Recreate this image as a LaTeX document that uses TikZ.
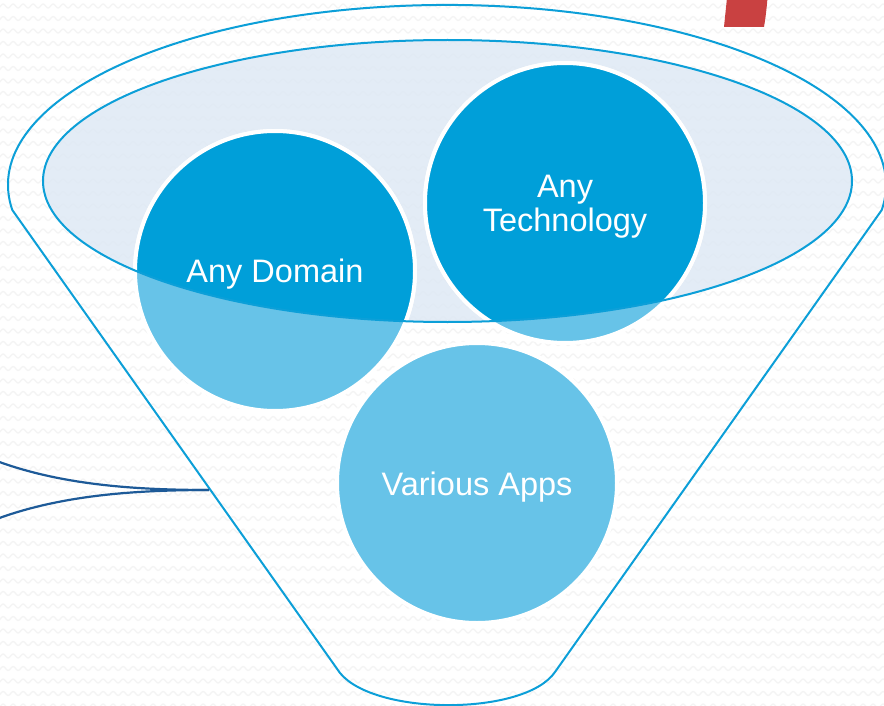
\documentclass[tikz,border=0pt]{standalone}
\usepackage{fontspec}
\setmainfont{Liberation Sans}
\usetikzlibrary{decorations.pathmorphing}
\definecolor{funnelblue}{HTML}{0C9FD8}
\definecolor{darkbub}{HTML}{009FD9}
\definecolor{lightbub}{HTML}{67C3E8}
\definecolor{ellfill}{HTML}{DDE8F4}
\definecolor{connblue}{HTML}{1D5A98}
\definecolor{qred}{HTML}{C94141}
\definecolor{patgray}{HTML}{F4F4F4}
\tikzset{
  funnel/.style={draw=funnelblue, line width=2pt},
  bubble/.style={circle, minimum size=280pt, inner sep=0pt, fill=lightbub, draw=white, line width=4pt},
  lbl/.style={text=white, font=\fontsize{32.5}{35}\selectfont, align=center, inner sep=0pt},
  conn/.style={draw=connblue, line width=2.2pt},
  pat/.style={draw=patgray, line width=1.3pt, decorate, decoration={snake, amplitude=2pt, segment length=10pt}}
}
\begin{document}
\begin{tikzpicture}[x=1pt, y=-1pt]
\useasboundingbox (0,0) rectangle (884,706);
\begin{scope}
\clip (0,0) rectangle (884,706);
\fill[white] (0,0) rectangle (884,706);
\foreach \k in {0,...,56} {
  \draw[pat] (-10,{6+12.5*\k}) -- (900,{6+12.5*\k});
}
% red shape
\fill[qred] (724,27) -- (727,-2) -- (767.5,-2) .. controls (766.5,10) and (765.5,18) .. (764,27) -- cycle;
% funnel outline
\draw[funnel] (12.3,210) arc[start angle=172, end angle=368, x radius=439, y radius=180]
  -- (555,672) .. controls (525,716) and (375,716) .. (340,673) -- cycle;
% inner ellipse fill
\fill[ellfill, fill opacity=0.8] (447.5,181) ellipse[x radius=404.5, y radius=141];
% bubbles
\node[bubble] (dom) at (275,271) {};
\node[bubble] (tech) at (565,203) {};
\node[bubble] (apps) at (477,483) {};
% darker parts inside ellipse
\begin{scope}
\clip (447.5,181) ellipse[x radius=404.5, y radius=141];
\foreach \n in {dom,tech} {
  \filldraw[fill=darkbub, draw=white, line width=4pt] (\n.center) circle (140);
}
\end{scope}
% inner ellipse outline
\draw[funnel] (447.5,181) ellipse[x radius=404.5, y radius=141];
% labels
\node[lbl] (domt) at ([yshift=-3pt]dom.center) {Any Domain};
\node[lbl] (techt) at ([yshift=-4pt]tech.center) {Any\\[-1pt]Technology};
\node[lbl] (appst) at ([yshift=-4pt]apps.center) {Various Apps};
% connectors
\coordinate (tip) at (209,490);
\coordinate (c1) at (-2,461.5);
\coordinate (c2) at (-2,518.5);
\draw[conn] (c1) .. controls (60,484) and (130,490) .. (tip);
\draw[conn] (c2) .. controls (60,496) and (130,490) .. (tip);
\end{scope}
\end{tikzpicture}
\end{document}
